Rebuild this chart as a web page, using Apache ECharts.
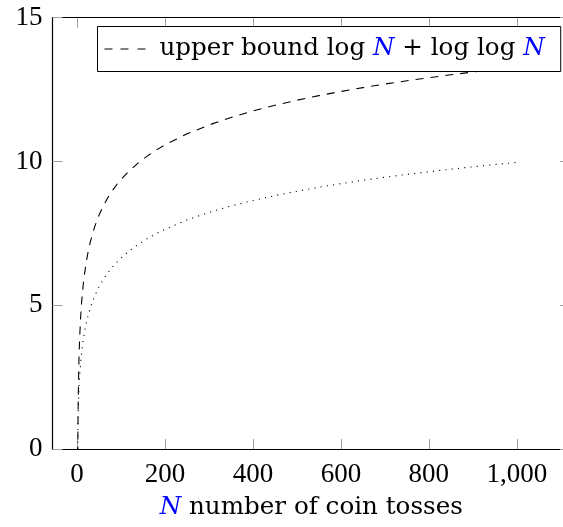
<!DOCTYPE html>
<html>
<head>
<meta charset="utf-8">
<script src="https://cdn.jsdelivr.net/npm/echarts@6/dist/echarts.min.js"></script>
<style>
html,body{margin:0;padding:0;background:#fff;}
#c{width:563px;height:527px;}
</style>
</head>
<body>
<div id="c"></div>
<script>
// N values (number of coin tosses)
var nValues = [1, 1.5, 2, 3, 4, 5, 6, 8, 10, 12, 15, 20, 25, 30, 40, 50, 60, 70, 80, 90, 100,
  120, 140, 160, 180, 200, 250, 300, 350, 400, 450, 500, 550, 600, 650, 700, 750, 800, 850, 900, 950, 1000];
// dotted curve values
var dottedValues = [0, 0.585, 1, 1.585, 2, 2.322, 2.585, 3, 3.322, 3.585, 3.907, 4.322, 4.644, 4.907, 5.322, 5.644, 5.907, 6.129, 6.322, 6.492, 6.644,
  6.907, 7.129, 7.322, 7.492, 7.644, 7.966, 8.229, 8.451, 8.644, 8.814, 8.966, 9.104, 9.229, 9.344, 9.451, 9.551, 9.644, 9.731, 9.814, 9.892, 9.966];
// dashed upper-bound curve values; first point is below the axis
var upperValues = [null, -0.19, 1, 2.25, 3, 3.537, 3.955, 4.585, 5.054, 5.427, 5.873, 6.434, 6.859, 7.202, 7.734, 8.141, 8.469, 8.745, 8.982, 9.191, 9.376,
  9.695, 9.963, 10.194, 10.397, 10.579, 10.96, 11.269, 11.53, 11.756, 11.954, 12.131, 12.29, 12.435, 12.568, 12.692, 12.807, 12.914, 13.014, 13.109, 13.198, 13.283];
var xTicks = [0, 200, 400, 600, 800, 1000];
var yTicks = [0, 5, 10, 15];
var legendLabel = 'upper bound log {n|N} + log log {n|N}';
var xAxisTitle = '{n|N} number of coin tosses';

function pairs(xs, ys) {
  var out = [];
  for (var i = 0; i < xs.length; i++) { if (ys[i] !== null) out.push([xs[i], ys[i]]); }
  return out;
}
function fmtNum(v) { return v >= 1000 ? (Math.floor(v / 1000) + ',' + ('00' + (v % 1000)).slice(-3)) : String(v); }

var NUMFONT = 'Liberation Serif';
var TXTFONT = 'DejaVu Serif';
var FS = 27;
var TFS = 24.6;
function ticks(vals) { return { show: true, inside: true, length: 10, lineStyle: { color: '#a0a0a0', width: 1 }, customValues: vals }; }
var axisLineStyle = { show: true, onZero: false, lineStyle: { color: '#000', width: 1.2 } };

var chart = echarts.init(document.getElementById('c'), null, { renderer: 'canvas' });
chart.setOption({
  animation: false,
  backgroundColor: '#fff',
  grid: { left: 52.5, top: 17.7, width: 517.5, height: 431.3, containLabel: false, outerBoundsMode: 'none' },
  legend: {
    data: ['upper'],
    left: 97.5, top: 26.5,
    padding: [10, 16, 10, 7],
    backgroundColor: '#fff',
    borderColor: '#000', borderWidth: 1, borderRadius: 0,
    itemWidth: 41, itemHeight: 1.5,
    icon: 'path://M0,0h8v1h-8zM16,0h8v1h-8zM33,0h8v1h-8z',
    itemStyle: { color: '#000' },
    formatter: function () { return legendLabel; },
    textStyle: {
      fontFamily: TXTFONT, fontSize: TFS, color: '#000', padding: [0, 0, 0, 9],
      rich: { n: { fontFamily: TXTFONT, fontSize: TFS, fontStyle: 'italic', color: '#0000ff' } }
    }
  },
  xAxis: [{
    type: 'value', min: -56, max: 1121, interval: 200,
    position: 'bottom',
    axisLine: axisLineStyle,
    axisTick: ticks(xTicks),
    splitLine: { show: false },
    axisLabel: {
      fontFamily: NUMFONT, fontSize: FS, color: '#000', margin: 12,
      customValues: xTicks,
      formatter: function (v) { return fmtNum(v); }
    },
    name: xAxisTitle, nameLocation: 'middle', nameGap: 46,
    nameTextStyle: {
      fontFamily: TXTFONT, fontSize: TFS, color: '#000',
      rich: { n: { fontFamily: TXTFONT, fontSize: TFS, fontStyle: 'italic', color: '#0000ff' } }
    }
  }, {
    type: 'value', min: -56, max: 1121, interval: 200,
    position: 'top',
    axisLine: axisLineStyle,
    axisTick: ticks(xTicks),
    axisLabel: { show: false },
    splitLine: { show: false }
  }],
  yAxis: [{
    type: 'value', min: 0, max: 15, interval: 5,
    position: 'left',
    axisLine: axisLineStyle,
    axisTick: ticks(yTicks),
    splitLine: { show: false },
    axisLabel: { fontFamily: NUMFONT, fontSize: FS, color: '#000', margin: 10, customValues: yTicks }
  }, {
    type: 'value', min: 0, max: 15, interval: 5,
    position: 'right',
    axisLine: axisLineStyle,
    axisTick: ticks(yTicks),
    axisLabel: { show: false },
    splitLine: { show: false }
  }],
  series: [{
    name: 'upper',
    type: 'line',
    xAxisIndex: 0, yAxisIndex: 0,
    data: pairs(nValues, upperValues),
    showSymbol: false, symbol: 'none',
    clip: true,
    itemStyle: { color: '#000' },
    lineStyle: { color: '#000', width: 1.1, type: [8, 7] },
    z: 2
  }, {
    name: 'log',
    type: 'line',
    xAxisIndex: 0, yAxisIndex: 0,
    data: pairs(nValues, dottedValues),
    showSymbol: false, symbol: 'none',
    clip: true,
    itemStyle: { color: '#000' },
    lineStyle: { color: '#000', width: 1.1, type: [1.1, 5.2] },
    z: 2
  }]
});
</script>
</body>
</html>
